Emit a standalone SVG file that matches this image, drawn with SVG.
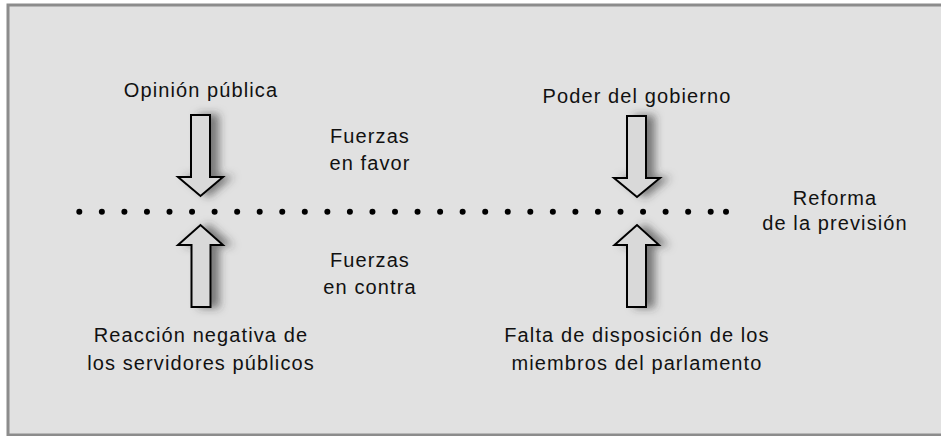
<svg xmlns="http://www.w3.org/2000/svg" width="941" height="436" viewBox="0 0 941 436">
<defs>
<filter id="sh" x="-50%" y="-20%" width="200%" height="140%">
<feDropShadow dx="8" dy="0" stdDeviation="4" flood-color="#333" flood-opacity="0.6"/>
</filter>
<style>
text{font-family:"Liberation Sans",Arial,sans-serif;font-size:20px;fill:#111;text-anchor:middle;letter-spacing:1.1px}
.arr{fill:#d9d9d9;stroke:#000;stroke-width:2;stroke-linejoin:miter}
.dot{fill:#000}
</style>
</defs>
<rect x="0" y="0" width="941" height="436" fill="#fff"/>
<rect x="8" y="5" width="940" height="430" fill="#e1e1e1" stroke="#8c8c8c" stroke-width="3"/>
<g id="opinion">
<text x="201" y="97">Opinión pública</text>
<path class="arr" filter="url(#sh)" d="M191,115 H210 V177 H223 L200.5,196 L178,177 H191 Z"/>
</g>
<g id="poder">
<text x="637" y="103">Poder del gobierno</text>
<path class="arr" filter="url(#sh)" d="M627,116 H646 V178 H660 L637,197 L614,178 H627 Z"/>
</g>
<g id="fuerzas-favor">
<text x="370" y="143">Fuerzas</text>
<text x="370" y="170">en favor</text>
</g>
<g id="fuerzas-contra">
<text x="370" y="267">Fuerzas</text>
<text x="370" y="294">en contra</text>
</g>
<g id="reforma">
<text x="835" y="205">Reforma</text>
<text x="835" y="230">de la previsión</text>
</g>
<g id="reaccion">
<path class="arr" filter="url(#sh)" d="M191.5,307 H210.5 V245 H223 L200.5,225 L178,245 H191.5 Z"/>
<text x="201" y="342">Reacción negativa de</text>
<text x="201" y="370">los servidores públicos</text>
</g>
<g id="falta">
<path class="arr" filter="url(#sh)" d="M627,307 H646 V245 H659 L637,225 L614.5,245 H627 Z"/>
<text x="637" y="342">Falta de disposición de los</text>
<text x="637" y="370">miembros del parlamento</text>
</g>
<g id="connectors">
<g class="dot">
<circle cx="79.3" cy="211.7" r="3"/><circle cx="101.85" cy="211.7" r="3"/><circle cx="124.4" cy="211.7" r="3"/><circle cx="146.95" cy="211.7" r="3"/><circle cx="169.5" cy="211.7" r="3"/><circle cx="192.05" cy="211.7" r="3"/><circle cx="214.6" cy="211.7" r="3"/><circle cx="237.15" cy="211.7" r="3"/><circle cx="259.7" cy="211.7" r="3"/><circle cx="282.25" cy="211.7" r="3"/><circle cx="304.8" cy="211.7" r="3"/><circle cx="327.35" cy="211.7" r="3"/><circle cx="349.9" cy="211.7" r="3"/><circle cx="372.45" cy="211.7" r="3"/><circle cx="395" cy="211.7" r="3"/><circle cx="417.55" cy="211.7" r="3"/><circle cx="440.1" cy="211.7" r="3"/><circle cx="462.65" cy="211.7" r="3"/><circle cx="485.2" cy="211.7" r="3"/><circle cx="507.75" cy="211.7" r="3"/><circle cx="530.3" cy="211.7" r="3"/><circle cx="552.85" cy="211.7" r="3"/><circle cx="575.4" cy="211.7" r="3"/><circle cx="597.95" cy="211.7" r="3"/><circle cx="620.5" cy="211.7" r="3"/><circle cx="643.05" cy="211.7" r="3"/><circle cx="665.6" cy="211.7" r="3"/><circle cx="688.15" cy="211.7" r="3"/><circle cx="710.7" cy="211.7" r="3"/><circle cx="726" cy="211.7" r="3"/>
</g>
</g>
</svg>
